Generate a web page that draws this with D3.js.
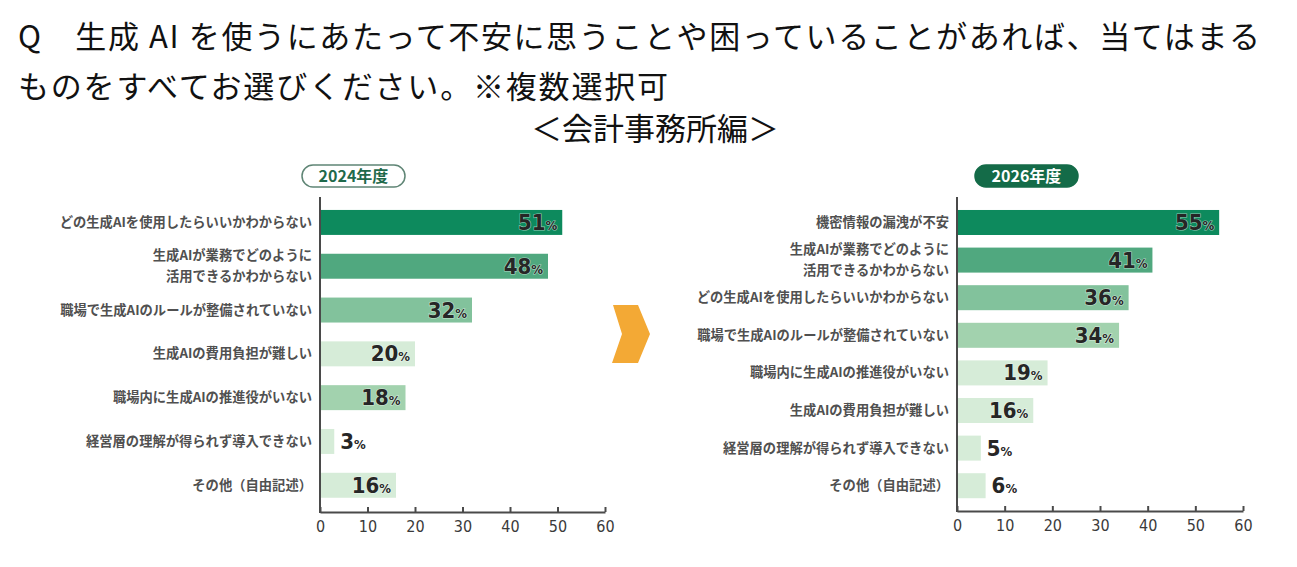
<!DOCTYPE html>
<html>
<head>
<meta charset="utf-8">
<script src="https://cdn.jsdelivr.net/npm/d3@7"></script>
<style>
  body { margin: 0; background: #fff; }
  .title { font-family: "Noto Sans CJK JP", sans-serif; font-size: 31px; fill: #111; }
  .cat { font-family: "Noto Sans CJK JP", sans-serif; font-size: 13.3px; font-weight: 700; fill: #505050; }
  .val { font-family: "DejaVu Sans Condensed", "DejaVu Sans", sans-serif; font-stretch: condensed; font-weight: 700; fill: #262626;
         stroke: rgba(255,255,255,0.55); stroke-width: 1.2px; paint-order: stroke; }
  .axis text { font-family: "DejaVu Sans Condensed", "DejaVu Sans", sans-serif; font-stretch: condensed; font-size: 16px; fill: #3a3a3a; }
  .axis line, .axis path { stroke: #4a4a4a; stroke-width: 2px; }
</style>
</head>
<body>
<svg id="chart" width="1297" height="567"></svg>
<script>
// question text
var titleLines = [
  "Q　生成 AI を使うにあたって不安に思うことや困っていることがあれば、当てはまる",
  "ものをすべてお選びください。※複数選択可"
]
var subTitle = "＜会計事務所編＞"

// 2024
var year2024 = "2024年度"
var cats2024 = [
  "どの生成AIを使用したらいいかわからない",
  "生成AIが業務でどのように\n活用できるかわからない",
  "職場で生成AIのルールが整備されていない",
  "生成AIの費用負担が難しい",
  "職場内に生成AIの推進役がいない",
  "経営層の理解が得られず導入できない",
  "その他（自由記述）"
]
var vals2024 = [51, 48, 32, 20, 18, 3, 16]

// 2026
var year2026 = "2026年度"
var cats2026 = [
  "機密情報の漏洩が不安",
  "生成AIが業務でどのように\n活用できるかわからない",
  "どの生成AIを使用したらいいかわからない",
  "職場で生成AIのルールが整備されていない",
  "職場内に生成AIの推進役がいない",
  "生成AIの費用負担が難しい",
  "経営層の理解が得られず導入できない",
  "その他（自由記述）"
]
var vals2026 = [55, 41, 36, 34, 19, 16, 5, 6]

var xTicks = [0, 10, 20, 30, 40, 50, 60]

// bar shades (darkest -> lightest)
var shades = ["#0d8a5d", "#50a87f", "#82c29c", "#a2d2ae", "#d6ecd8"]
var shade2024 = [0, 1, 2, 4, 3, 4, 4]
var shade2026 = [0, 1, 2, 3, 4, 4, 4, 4]

var svg = d3.select("#chart")

// title
svg.append("text").attr("class", "title")
  .attr("x", 18).attr("y", 48)
  .attr("textLength", 1242).attr("lengthAdjust", "spacing")
  .text(titleLines[0])
svg.append("text").attr("class", "title")
  .attr("x", 18).attr("y", 98)
  .attr("textLength", 650).attr("lengthAdjust", "spacing")
  .text(titleLines[1])
svg.append("text").attr("class", "title")
  .attr("x", 655).attr("y", 140)
  .attr("text-anchor", "middle")
  .text(subTitle)

// chevron between the charts
svg.append("path")
  .attr("d", "M613,305 L638,305 L650,334 L638,363 L612,363 L622,334 Z")
  .attr("fill", "#f3a935")

function drawPanel(opt)
{
  var x = d3.scaleLinear()
    .domain([0, 60])
    .range([opt.x0, opt.x1])

  var y = d3.scaleBand()
    .domain(opt.cats)
    .range([opt.y0, opt.y1])
    .paddingInner(opt.padIn)
    .paddingOuter(opt.padOut)

  var g = svg.append("g")

  // bars
  g.selectAll("rect.bar")
    .data(opt.vals)
    .enter()
    .append("rect")
    .attr("class", "bar")
    .attr("x", x(0))
    .attr("y", function(d, i) { return y(opt.cats[i]) })
    .attr("width", function(d) { return x(d) - x(0) })
    .attr("height", y.bandwidth())
    .attr("fill", function(d, i) { return shades[opt.shade[i]] })

  // value labels
  var labels = g.selectAll("text.val")
    .data(opt.vals)
    .enter()
    .append("text")
    .attr("class", "val")
    .attr("y", function(d, i) { return y(opt.cats[i]) + y.bandwidth() / 2 + 7.5 })
    .attr("x", function(d) { return d < 10 ? x(d) + 6 : x(d) - 5 })
    .attr("text-anchor", function(d) { return d < 10 ? "start" : "end" })
  labels.append("tspan").attr("font-size", 22).text(function(d) { return d })
  labels.append("tspan").attr("font-size", 13).text("%")

  // category labels
  g.selectAll("text.cat")
    .data(opt.cats)
    .enter()
    .append("text")
    .attr("class", "cat")
    .attr("text-anchor", "end")
    .each(function(d) {
      var lines = d.split("\n")
      var cy = y(d) + y.bandwidth() / 2
      var t = d3.select(this)
      lines.forEach(function(s, k) {
        t.append("tspan")
          .attr("x", opt.x0 - 8)
          .attr("y", cy + 4.5 + (k - (lines.length - 1) / 2) * 21)
          .text(s)
      })
    })

  // x axis
  var xAxis = d3.axisBottom(x)
    .tickValues(xTicks)
    .tickSize(-5)
    .tickPadding(9)
    .tickSizeOuter(0)
  g.append("g")
    .attr("class", "axis")
    .attr("transform", "translate(0," + opt.base + ")")
    .call(xAxis)

  // vertical axis line
  g.append("line")
    .attr("x1", x(0)).attr("x2", x(0))
    .attr("y1", opt.top).attr("y2", opt.base + 1)
    .attr("stroke", "#4a4a4a").attr("stroke-width", 2)

  // year pill
  var pill = g.append("g").attr("transform", "translate(" + opt.pillX + ",165)")
  pill.append("rect")
    .attr("x", 0).attr("y", 0)
    .attr("width", 103).attr("height", 22)
    .attr("rx", 11)
    .attr("fill", opt.pillFill)
    .attr("stroke", opt.pillStroke)
    .attr("stroke-width", 1.5)
  pill.append("text")
    .attr("x", 51.5).attr("y", 17)
    .attr("text-anchor", "middle")
    .attr("font-family", "'Noto Sans CJK JP', sans-serif")
    .attr("font-weight", 700)
    .attr("font-size", 16)
    .attr("fill", opt.pillText)
    .text(opt.year)
}

drawPanel({
  cats: cats2024, vals: vals2024, shade: shade2024, year: year2024,
  x0: 320, x1: 605, y0: 199, y1: 508.7, padIn: 0.43, padOut: 0.25,
  base: 512, top: 197,
  pillX: 302, pillFill: "#fff", pillStroke: "#5f8575", pillText: "#1f6a4b"
})

drawPanel({
  cats: cats2026, vals: vals2026, shade: shade2026, year: year2026,
  x0: 957, x1: 1243, y0: 198.7, y1: 509.5, padIn: 0.335, padOut: 0.3,
  base: 511, top: 197,
  pillX: 975, pillFill: "#146b48", pillStroke: "#146b48", pillText: "#fff"
})
</script>
</body>
</html>
